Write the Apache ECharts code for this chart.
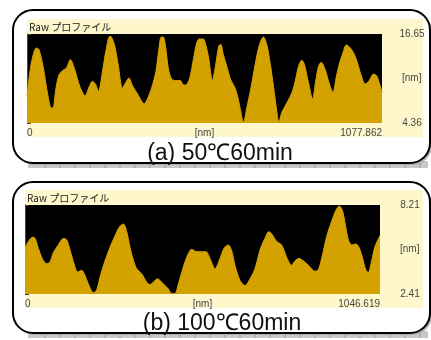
<!DOCTYPE html>
<html>
<head>
<meta charset="utf-8">
<script src="https://cdn.jsdelivr.net/npm/echarts@6/dist/echarts.min.js"></script>
<style>
html,body{margin:0;padding:0;background:#fff;}
#chart{width:431px;height:340px;}
</style>
</head>
<body>
<div id="chart"></div>
<script>
// ---- Panel (a) 50℃60min ----
var xA = [0,13.2,28.4,36.5,48.7,63.9,74.0,79.1,87.2,97.3,109.5,119.6,131.8,145.0,160.2,176.4,188.6,198.7,208.9,217.0,229.2,239.3,251.5,256.5,266.7,276.8,290.0,300.1,309.3,320.4,335.6,355.9,368.1,381.3,391.4,399.5,407.6,413.7,420.8,428.9,439.1,452.2,464.4,474.5,482.6,494.8,505.0,515.1,523.2,535.4,543.5,551.6,562.8,572.9,582.0,588.1,596.2,606.4,618.5,631.7,641.8,649.0,657.1,667.2,679.4,692.6,705.8,717.9,728.1,738.2,748.4,758.5,764.6,773.7,788.9,804.1,814.2,824.4,834.5,841.6,854.8,867.0,877.1,885.2,893.3,905.5,915.6,928.8,938.9,949.1,959.2,969.4,981.6,991.7,1001.8,1014.0,1027.2,1037.3,1052.5,1062.6,1077.862];
var yA = [8.04,12.65,14.72,14.49,12.19,8.04,6.43,6.43,8.96,11.03,11.63,11.95,13.11,11.72,9.42,8.13,9.33,10.11,9.65,8.73,11.49,14.26,16.33,16.24,14.95,12.42,9.19,9.98,10.57,9.52,8.36,7.03,7.95,9.65,11.49,14.26,16.24,16.24,14.95,11.95,10.44,10.21,10.25,9.65,9.61,10.71,13.11,15.41,15.96,15.96,15.04,13.34,10.25,12.42,14.95,15.22,13.80,12.19,10.34,9.19,7.58,5.97,4.45,6.43,9.06,12.42,15.18,16.24,15.18,12.65,9.42,5.97,4.45,5.83,7.12,8.50,10.11,12.19,13.01,12.55,9.88,7.67,10.34,12.19,12.74,11.72,10.11,8.59,10.71,12.65,14.03,15.13,14.72,14.03,12.88,11.03,9.75,10.11,11.13,10.80,8.59];
var yTicksA = [4.36, 16.65];
var xTicksA = [0, 1077.862];
var captionA = '(a) 50℃60min';

// ---- Panel (b) 100℃60min ----
var xB = [0,9.8,22.6,29.5,39.3,52.1,63.9,73.7,83.5,98.3,113.0,122.8,132.7,144.5,155.3,167.1,176.9,186.7,201.5,211.3,221.1,235.9,250.6,265.3,278.1,289.9,299.7,309.6,319.4,329.2,344.0,358.7,368.5,383.3,390.1,407.8,422.6,432.4,442.2,452.1,466.8,479.6,491.4,506.1,520.9,533.6,545.4,560.2,574.9,586.7,599.5,609.3,619.1,633.9,648.6,663.3,678.1,692.8,707.6,718.4,727.2,742.0,753.8,761.6,771.5,786.2,796.0,807.8,820.6,835.3,855.0,864.8,874.6,889.4,904.1,916.9,926.7,936.5,953.3,963.1,975.9,985.7,995.5,1005.3,1012.2,1022.0,1031.9,1046.619];
var yB = [5.39,5.83,6.11,6.05,5.39,4.66,4.39,4.50,5.10,5.61,6.03,5.94,5.28,4.39,3.84,3.95,3.62,3.07,2.50,2.67,3.51,4.57,5.45,6.20,6.78,6.97,6.49,5.45,4.62,4.06,3.73,3.18,3.03,3.29,3.40,3.07,2.74,2.45,2.45,3.07,4.17,4.95,5.32,5.17,5.17,5.17,4.73,4.06,4.73,5.39,5.61,5.23,4.28,3.29,2.96,3.40,4.06,5.28,6.05,6.47,6.34,5.83,5.67,5.39,4.79,4.28,4.57,4.73,4.57,4.28,3.89,4.00,4.73,6.16,7.15,7.88,8.14,7.81,5.94,5.61,5.67,5.39,4.73,3.95,3.82,4.57,5.50,6.22];
var yTicksB = [2.41, 8.21];
var xTicksB = [0, 1046.619];
var captionB = '(b) 100℃60min';

var panelTitle = 'Raw プロファイル';
var unitLabel = '[nm]';

function pairs(xs, ys){ return xs.map(function(x,i){ return [x, ys[i]]; }); }

var GOLD = '#D4A200';
var BEIGE = '#FFF7CC';
var FONT = 'Liberation Sans, Arial, sans-serif';
var CJK = 'Noto Sans CJK JP, sans-serif';

function fmt(ticks){
  return function(v){
    for (var i=0;i<ticks.length;i++){ if (Math.abs(v-ticks[i])<1e-6) return String(ticks[i]); }
    return '';
  };
}
function fmt2(){
  return function(v){ return v.toFixed(2); };
}

function xAxisCfg(idx, ticks){
  return {
    type:'value', gridIndex:idx, min:ticks[0], max:ticks[1],
    axisLine:{show:false}, axisTick:{show:false}, splitLine:{show:false},
    axisLabel:{customValues:ticks, formatter:fmt(ticks), fontSize:10, color:'#444', fontFamily:FONT,
      margin:5, alignMinLabel:'left', alignMaxLabel:'right', showMinLabel:true, showMaxLabel:true},
    name:unitLabel, nameLocation:'middle', nameGap:5, nameMoveOverlap:false,
    nameTextStyle:{fontSize:10, color:'#444', fontFamily:FONT, verticalAlign:'top'}
  };
}
function yAxisCfg(idx, ticks){
  return {
    type:'value', gridIndex:idx, position:'right', min:ticks[0], max:ticks[1],
    axisLine:{show:true, lineStyle:{color:'#444', width:1}},
    axisTick:{show:true, customValues:ticks, length:4, lineStyle:{color:'#444'}},
    splitLine:{show:false},
    axisLabel:{customValues:ticks, formatter:fmt2(), fontSize:10, color:'#444', fontFamily:FONT,
      margin:30, align:'center', showMinLabel:true, showMaxLabel:true},
    name:unitLabel, nameLocation:'middle', nameRotate:0, nameGap:20, nameMoveOverlap:false,
    nameTextStyle:{fontSize:10, color:'#444', fontFamily:FONT, align:'left'}
  };
}

function panelDeco(top, bottom, beigeX, beigeTop, beigeBottom, titleY, caption, capX, capY){
  var els = [];
  els.push({type:'rect', z:-30, shape:{x:28, y:bottom-2, width:400, height:7}, style:{fill:'#c8c8c8'}});
  for (var x=45; x<428; x+=15){
    els.push({type:'line', z:-29, shape:{x1:x, y1:bottom, x2:x, y2:bottom+5}, style:{stroke:'#999', lineWidth:1}});
  }
  els.push({type:'rect', z:-28, shape:{x:15, y:top+2, width:417, height:bottom-top, r:20}, style:{fill:'#b0b0b0'}});
  els.push({type:'rect', z:-27, shape:{x:13, y:top, width:417, height:bottom-top, r:20}, style:{fill:'#fff', stroke:'#000', lineWidth:2}});
  els.push({type:'rect', z:-26, shape:{x:beigeX, y:beigeTop, width:423-beigeX, height:beigeBottom-beigeTop}, style:{fill:BEIGE}});
  els.push({type:'text', z:10, x:beigeX+2, y:titleY, style:{text:panelTitle, fontSize:10, fontFamily:CJK, fill:'#222', textVerticalAlign:'middle'}});
  els.push({type:'text', z:10, x:capX, y:capY, style:{text:caption, fontSize:23, fontFamily:FONT, fill:'#111', textAlign:'center', textVerticalAlign:'middle'}});
  return els;
}

var chart = echarts.init(document.getElementById('chart'), null, {renderer:'canvas'});
chart.setOption({
  animation:false,
  backgroundColor:'#fff',
  graphic: panelDeco(10, 163, 27, 19, 137, 27, captionA, 220, 154)
    .concat(panelDeco(182, 333, 25, 190, 308, 198, captionB, 222, 324)),
  grid:[
    {left:27, top:34, width:355, height:89, show:true, backgroundColor:'#000', borderWidth:0, containLabel:false, outerBoundsMode:'none'},
    {left:25, top:205, width:355, height:89, show:true, backgroundColor:'#000', borderWidth:0, containLabel:false, outerBoundsMode:'none'}
  ],
  xAxis:[xAxisCfg(0, xTicksA), xAxisCfg(1, xTicksB)],
  yAxis:[yAxisCfg(0, yTicksA), yAxisCfg(1, yTicksB)],
  series:[
    {type:'line', xAxisIndex:0, yAxisIndex:0, data:pairs(xA,yA), showSymbol:false, smooth:0.3,
      lineStyle:{color:GOLD, width:1}, areaStyle:{color:GOLD, opacity:1, origin:'start'}},
    {type:'line', xAxisIndex:1, yAxisIndex:1, data:pairs(xB,yB), showSymbol:false, smooth:0.3,
      lineStyle:{color:GOLD, width:1}, areaStyle:{color:GOLD, opacity:1, origin:'start'}}
  ]
});
</script>
</body>
</html>
